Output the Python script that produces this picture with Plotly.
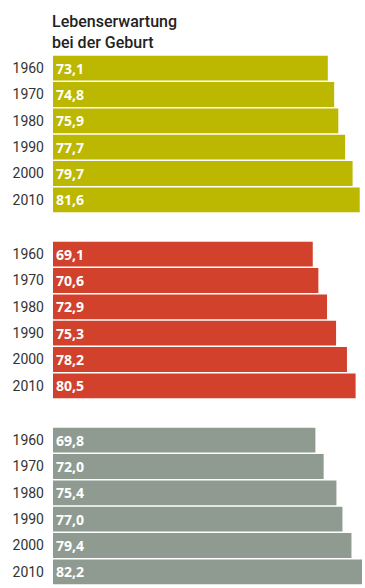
import plotly.graph_objects as go

years = ["1960", "1970", "1980", "1990", "2000", "2010"]
group_a = [73.1, 74.8, 75.9, 77.7, 79.7, 81.6]
group_b = [69.1, 70.6, 72.9, 75.3, 78.2, 80.5]
group_c = [69.8, 72.0, 75.4, 77.0, 79.4, 82.2]
colors = ["#bcb700", "#d1412b", "#8f9b91"]

H = 588
# vertical pixel extents of each block of bars (top, bottom)
blocks = [(55, 213), (241, 399), (427, 585)]

fig = go.Figure()
for i, (vals, col) in enumerate(zip([group_a, group_b, group_c], colors)):
    n = "" if i == 0 else str(i + 1)
    fig.add_trace(go.Bar(
        x=vals, y=years, orientation="h",
        marker=dict(color=col, line=dict(width=0)),
        texttemplate="%{x:.1f}", textposition="inside",
        insidetextanchor="start",
        textfont=dict(family="Open Sans", size=15, color="white", weight="bold"),
        xaxis="x" + n, yaxis="y" + n,
        hoverinfo="skip",
    ))
    top, bot = blocks[i]
    fig.layout["xaxis" + n] = dict(
        range=[0, 83], domain=[0, 1], visible=False, fixedrange=True,
        anchor="y" + n,
    )
    fig.layout["yaxis" + n] = dict(
        domain=[1 - bot / H, 1 - top / H], autorange="reversed",
        type="category", showgrid=False, zeroline=False, showline=False,
        ticks="", ticklabelstandoff=8, anchor="x" + n,
        tickfont=dict(family="Roboto", size=14, color="#333333"),
    )

fig.add_annotation(
    text="Lebenserwartung<br>bei der Geburt", xref="paper", yref="paper",
    x=-3 / 312, y=1 - 10 / H, xanchor="left", yanchor="top", align="left",
    showarrow=False,
    font=dict(family="Roboto", size=16, color="#222222", weight=500),
)

fig.update_layout(
    width=365, height=H, margin=dict(l=53, r=0, t=0, b=0),
    paper_bgcolor="white", plot_bgcolor="white",
    bargap=0.06, showlegend=False, separators=",.",
    font=dict(family="Open Sans"),
)
fig.write_html("out.html", config={"displayModeBar": False})
